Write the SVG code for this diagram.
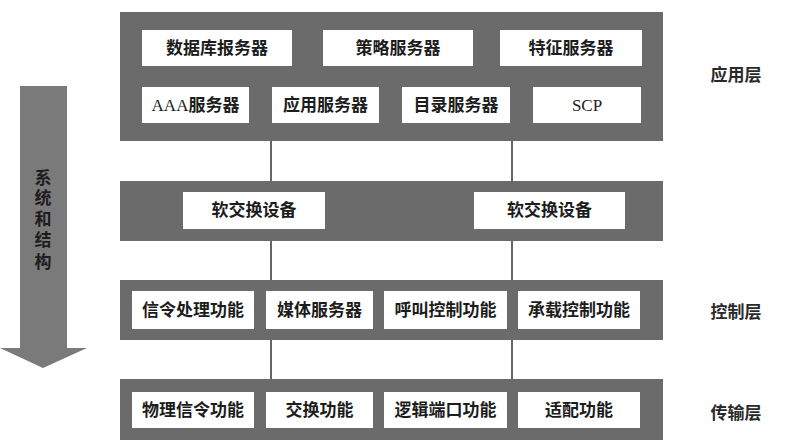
<svg xmlns="http://www.w3.org/2000/svg" width="787" height="447" viewBox="0 0 787 447">
<style>
.band{fill:#6b6b6b}
.box{fill:#ffffff}
.t{font-family:"Liberation Serif","Noto Sans CJK SC",sans-serif;font-size:17px;font-weight:700;fill:#1c1c1c;text-anchor:middle;dominant-baseline:central}
.lbl{font-family:"Liberation Serif","Noto Sans CJK SC",sans-serif;font-size:17px;font-weight:700;fill:#2a2a2a;text-anchor:middle;dominant-baseline:central}
.lat{font-weight:400}
.ln{stroke:#333;stroke-width:1.5;fill:none}
</style>
<rect width="787" height="447" fill="#ffffff"/>
<g id="arrow">
<polygon points="20,86 67,86 67,348 87,348 43,368 0,348 20,348" fill="#7a7a7a"/>
<text class="lbl" x="43" y="178" style="fill:#1e1e1e">系</text>
<text class="lbl" x="43" y="198" style="fill:#1e1e1e">统</text>
<text class="lbl" x="43" y="219" style="fill:#1e1e1e">和</text>
<text class="lbl" x="43" y="240" style="fill:#1e1e1e">结</text>
<text class="lbl" x="43" y="262" style="fill:#1e1e1e">构</text>
</g>
<g id="connectors">
<line class="ln" x1="271" y1="141" x2="271" y2="181"/>
<line class="ln" x1="512" y1="141" x2="512" y2="181"/>
<line class="ln" x1="271" y1="241" x2="271" y2="280"/>
<line class="ln" x1="512" y1="241" x2="512" y2="280"/>
<line class="ln" x1="271" y1="340" x2="271" y2="379"/>
<line class="ln" x1="512" y1="340" x2="512" y2="379"/>
</g>
<g id="app-layer">
<rect class="band" x="120" y="12" width="543" height="129"/>
<g id="n-db"><rect class="box" x="142" y="30" width="150" height="36"/><text class="t" x="217" y="48">数据库报务器</text></g>
<g id="n-policy"><rect class="box" x="323" y="30" width="150" height="36"/><text class="t" x="398" y="48">策略服务器</text></g>
<g id="n-feature"><rect class="box" x="500" y="30" width="142" height="36"/><text class="t" x="571" y="48">特征服务器</text></g>
<g id="n-aaa"><rect class="box" x="142" y="87" width="107" height="36"/><text class="t" x="195.5" y="105"><tspan class="lat">AAA</tspan>服务器</text></g>
<g id="n-appsrv"><rect class="box" x="272" y="87" width="107" height="36"/><text class="t" x="325.5" y="105">应用服务器</text></g>
<g id="n-dir"><rect class="box" x="402" y="87" width="108" height="36"/><text class="t" x="456" y="105">目录服务器</text></g>
<g id="n-scp"><rect class="box" x="533" y="87" width="108" height="36"/><text class="t lat" x="587" y="105">SCP</text></g>
</g>
<g id="softswitch-layer">
<rect class="band" x="120" y="181" width="543" height="60"/>
<g id="n-ss1"><rect class="box" x="183" y="192" width="142" height="37"/><text class="t" x="254" y="210.5">软交换设备</text></g>
<g id="n-ss2"><rect class="box" x="474" y="192" width="151" height="37"/><text class="t" x="549.5" y="210.5">软交换设备</text></g>
</g>
<g id="control-layer">
<rect class="band" x="120" y="280" width="543" height="60"/>
<g id="n-sig"><rect class="box" x="132" y="291" width="122" height="38"/><text class="t" x="193" y="310">信令处理功能</text></g>
<g id="n-media"><rect class="box" x="266" y="291" width="107" height="38"/><text class="t" x="319.5" y="310">媒体服务器</text></g>
<g id="n-call"><rect class="box" x="384" y="291" width="123" height="38"/><text class="t" x="445.5" y="310">呼叫控制功能</text></g>
<g id="n-bearer"><rect class="box" x="518" y="291" width="122" height="38"/><text class="t" x="579" y="310">承载控制功能</text></g>
</g>
<g id="transport-layer">
<rect class="band" x="120" y="379" width="543" height="61"/>
<g id="n-phys"><rect class="box" x="132" y="392" width="122" height="36"/><text class="t" x="193" y="410">物理信令功能</text></g>
<g id="n-switch"><rect class="box" x="266" y="392" width="107" height="36"/><text class="t" x="319.5" y="410">交换功能</text></g>
<g id="n-port"><rect class="box" x="384" y="392" width="123" height="36"/><text class="t" x="445.5" y="410">逻辑端口功能</text></g>
<g id="n-adapt"><rect class="box" x="518" y="392" width="122" height="36"/><text class="t" x="579" y="410">适配功能</text></g>
</g>
<g id="layer-labels">
<text class="lbl" x="736" y="75">应用层</text>
<text class="lbl" x="736" y="312">控制层</text>
<text class="lbl" x="736" y="413">传输层</text>
</g>
</svg>
